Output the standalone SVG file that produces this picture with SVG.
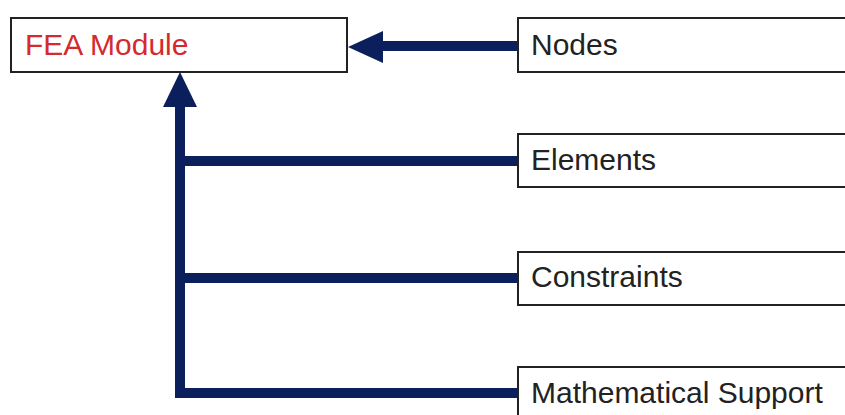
<svg xmlns="http://www.w3.org/2000/svg" width="845" height="415" viewBox="0 0 845 415">
  <style>
    .box { fill: #ffffff; stroke: #222222; stroke-width: 2; }
    .label { font-family: "Liberation Sans", Arial, sans-serif; font-size: 30px; fill: #222222; }
    .main { fill: #d42a2e; }
    .wire { fill: none; stroke: #0b1f5c; stroke-width: 10; stroke-linejoin: miter; }
    .head { fill: #0b1f5c; }
  </style>
  <rect width="845" height="415" fill="#ffffff"/>

  <!-- links feeding the module -->
  <g id="connectors">
    <line class="wire" x1="518" y1="46" x2="380" y2="46"/>
    <polygon class="head" points="348,47 383,31 383,63"/>
    <polyline class="wire" points="518,393 180,393 180,104"/>
    <line class="wire" x1="180" y1="161" x2="518" y2="161"/>
    <line class="wire" x1="180" y1="278" x2="518" y2="278"/>
    <polygon class="head" points="180,72 163,107 197,107"/>
  </g>

  <g id="fea-module">
    <rect class="box" x="11" y="18" width="336" height="54"/>
    <text class="label main" x="25" y="55">FEA Module</text>
  </g>
  <g id="nodes">
    <rect class="box" x="518" y="18" width="345" height="54"/>
    <text class="label" x="531" y="55">Nodes</text>
  </g>
  <g id="elements">
    <rect class="box" x="518" y="134" width="345" height="53"/>
    <text class="label" x="531" y="170">Elements</text>
  </g>
  <g id="constraints">
    <rect class="box" x="518" y="252" width="345" height="53"/>
    <text class="label" x="531" y="287">Constraints</text>
  </g>
  <g id="mathematical-support">
    <rect class="box" x="518" y="367" width="345" height="60"/>
    <text class="label" x="531" y="403">Mathematical Support</text>
  </g>
</svg>
